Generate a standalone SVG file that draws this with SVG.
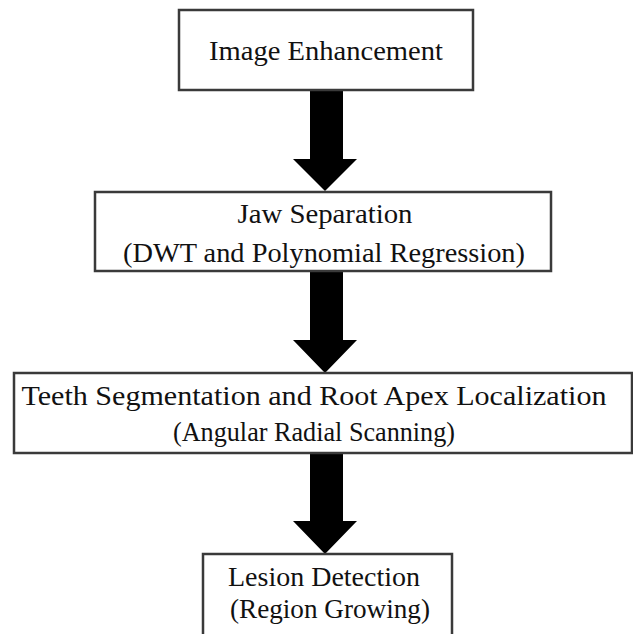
<svg xmlns="http://www.w3.org/2000/svg" width="633" height="634" viewBox="0 0 633 634">
<style>
.box{fill:#fff;stroke:#3a3a3a;stroke-width:2.5}
.t{font-family:"Liberation Serif","Times New Roman",serif;font-size:28px;fill:#111;text-anchor:middle}
.arr{fill:#000}
</style>
<rect width="633" height="634" fill="#fff"/>
<g id="connectors">
<path class="arr" d="M310,90 H343 V159 H357 L325,191 L293,159 H310 Z"/>
<path class="arr" d="M310,271 H343 V340 H357 L325,373 L293,340 H310 Z"/>
<path class="arr" d="M310,453 H343 V521 H357 L325,554 L293,521 H310 Z"/>
</g>
<g id="n1">
<rect class="box" x="179" y="10" width="294" height="80"/>
<text class="t" x="326" y="60" textLength="234" lengthAdjust="spacingAndGlyphs">Image Enhancement</text>
</g>
<g id="n2">
<rect class="box" x="95" y="192" width="456" height="79"/>
<text class="t" x="325" y="223" textLength="175" lengthAdjust="spacingAndGlyphs">Jaw Separation</text>
<text class="t" x="324" y="262" textLength="402" lengthAdjust="spacingAndGlyphs">(DWT and Polynomial Regression)</text>
</g>
<g id="n3">
<rect class="box" x="14" y="373" width="618" height="80"/>
<text class="t" x="314" y="405" textLength="585" lengthAdjust="spacingAndGlyphs">Teeth Segmentation and Root Apex Localization</text>
<text class="t" x="314" y="441" textLength="282" lengthAdjust="spacingAndGlyphs">(Angular Radial Scanning)</text>
</g>
<g id="n4">
<rect class="box" x="203" y="554" width="249" height="82"/>
<text class="t" x="324" y="586" textLength="192" lengthAdjust="spacingAndGlyphs">Lesion Detection</text>
<text class="t" x="330" y="618" textLength="200" lengthAdjust="spacingAndGlyphs">(Region Growing)</text>
</g>
</svg>
